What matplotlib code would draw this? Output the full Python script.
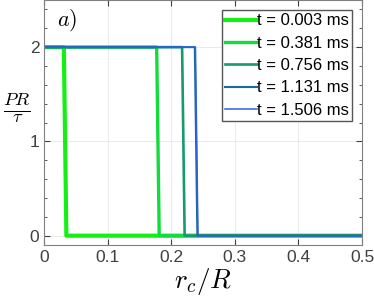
import numpy as np
import matplotlib.pyplot as plt

plt.rcParams['mathtext.fontset'] = 'cm'
plt.rcParams['font.family'] = ['Liberation Sans', 'DejaVu Sans']

# times and front positions (r_c/R where PR/tau drops from 2 to 0)
labels = ['t = 0.003 ms', 't = 0.381 ms', 't = 0.756 ms', 't = 1.131 ms', 't = 1.506 ms']
fronts = [0.031, 0.177, 0.217, 0.237, 0.238]
colors = ['#14f014', '#10dc3c', '#169a6e', '#1a6aa0', '#3060e0']
widths = [3.0, 2.4, 1.9, 1.5, 1.1]

fig = plt.figure(figsize=(3.74, 3.0), dpi=100)
ax = fig.add_axes([0.118, 0.183, 0.850, 0.817])

for lab, xf, c, w in zip(labels, fronts, colors, widths):
    xs = [0, xf, xf + 0.004, 0.5]
    ys = [2, 2, 0, 0]
    ax.plot(xs, ys, color=c, lw=w, label=lab)

ax.set_xlim(0, 0.5)
ax.set_ylim(-0.1, 2.5)
ax.set_xticks(np.arange(0, 0.51, 0.1))
ax.set_xticklabels(['0', '0.1', '0.2', '0.3', '0.4', '0.5'])
ax.set_yticks([0, 1, 2])
ax.set_yticks(np.arange(0, 2.5, 0.2), minor=True)
ax.grid(True, color='#e6e6e6', lw=0.6)
ax.tick_params(which='both', direction='in', right=True, top=True, colors='#404040', labelsize=12.5)
ax.tick_params(which='major', length=4)
ax.tick_params(which='minor', length=2.5)
for s in ax.spines.values():
    s.set_color('#808080')

ax.set_xlabel(r'$r_c/R$', fontsize=19.5, labelpad=1)
ax.set_ylabel(r'$\frac{PR}{\tau}$', fontsize=19, rotation=0, va='center')
ax.yaxis.set_label_coords(-0.085, 0.56)
ax.text(0.04, 0.895, r'$a)$', transform=ax.transAxes, fontsize=16)

ax.legend(loc='upper right', fontsize=12, frameon=True, fancybox=False, edgecolor='#555555',
          handlelength=1.9, handletextpad=0.0, borderpad=0.2, labelspacing=0.44,
          borderaxespad=0.6, framealpha=1)

fig.savefig('out.png', dpi=100)
